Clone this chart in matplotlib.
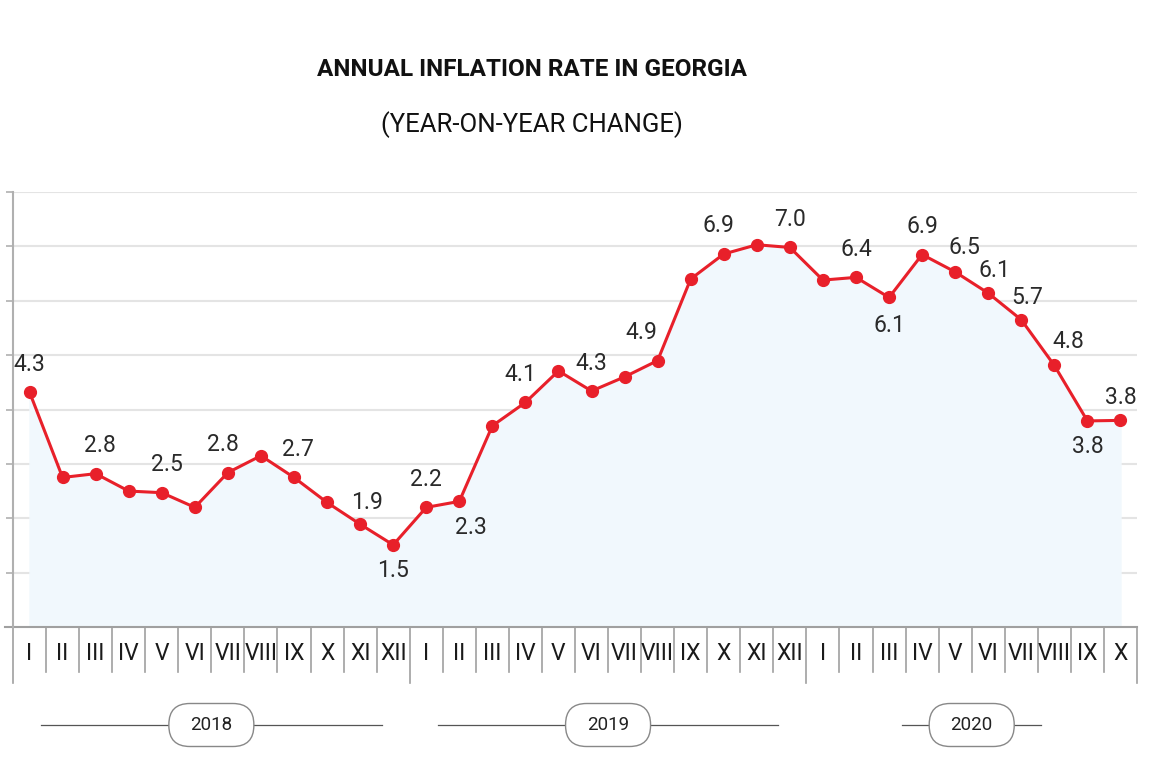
import numpy as np
import matplotlib.pyplot as plt
from matplotlib.patches import FancyBboxPatch

plt.rcParams['font.family'] = ['Roboto', 'DejaVu Sans']

# Datos: inflación anual (%), enero 2018 - octubre 2020
meses = ['I', 'II', 'III', 'IV', 'V', 'VI', 'VII', 'VIII', 'IX', 'X', 'XI', 'XII',
         'I', 'II', 'III', 'IV', 'V', 'VI', 'VII', 'VIII', 'IX', 'X', 'XI', 'XII',
         'I', 'II', 'III', 'IV', 'V', 'VI', 'VII', 'VIII', 'IX', 'X']
inflacion = [4.32, 2.75, 2.82, 2.50, 2.47, 2.20, 2.84, 3.15, 2.75, 2.29, 1.89, 1.51,
             2.20, 2.31, 3.70, 4.13, 4.71, 4.34, 4.60, 4.90, 6.40, 6.86, 7.03, 6.98,
             6.38, 6.43, 6.06, 6.85, 6.53, 6.14, 5.65, 4.81, 3.79, 3.80]
# etiquetas mostradas: indice -> (texto, arriba/abajo)
etiquetas = {0: ('4.3', 1), 2: ('2.8', 1), 4: ('2.5', 1), 6: ('2.8', 1), 8: ('2.7', 1),
             10: ('1.9', 1), 11: ('1.5', -1), 12: ('2.2', 1), 13: ('2.3', -1),
             15: ('4.1', 1), 17: ('4.3', 1), 19: ('4.9', 1), 21: ('6.9', 1),
             23: ('7.0', 1), 25: ('6.4', 1), 26: ('6.1', -1), 27: ('6.9', 1),
             28: ('6.5', 1), 29: ('6.1', 1), 30: ('5.7', 1), 31: ('4.8', 1),
             32: ('3.8', -1), 33: ('3.8', 1)}
anios = ['2018', '2019', '2020']
centro_anio = [5.5, 17.5, 28.5]
media_linea = [5.15, 5.15, 2.1]

# ajustes finos de posicion de etiquetas (pixeles)
desplaz = {2: (4, 0), 4: (5, 0), 6: (-5, 0), 8: (4, 0), 10: (7, -6), 13: (12, 0),
           15: (-5, 0), 19: (-16, 0), 21: (-5, 0), 26: (0, -2), 28: (9, -4), 29: (6, -5),
           30: (6, -6), 31: (14, -4), 33: (0, -5)}

rojo = '#e8202a'
gris = '#a0a0a0'

fig = plt.figure(figsize=(11.49, 7.66), dpi=100)
ax = fig.add_axes([13 / 1149, 1 - 627 / 766, 1124 / 1149, 435 / 766])

x = np.arange(len(inflacion))
ax.set_xlim(-0.5, len(inflacion) - 0.5)
ax.set_ylim(0, 8)

for v in range(1, 9):
    ax.axhline(v, color='#e4e4e4', lw=1.5, zorder=0)

ax.fill_between(x, inflacion, 0, color='#f1f8fd', zorder=1)
ax.plot(x, inflacion, color=rojo, lw=2.2, marker='o', markersize=8.5, zorder=3)

for i, (txt, lado) in etiquetas.items():
    dx, dy = desplaz.get(i, (0, 0))
    base = 28 if lado > 0 else -26
    ax.annotate(txt, (x[i], inflacion[i]), xytext=(dx * 0.72, (base + dy) * 0.72),
                textcoords='offset points', ha='center', va='center',
                fontsize=16.5, color='#2a2a2a', zorder=4)

# ejes
for s in ['top', 'right', 'bottom']:
    ax.spines[s].set_visible(False)
ax.spines['left'].set_color('#b0b0b0')
ax.spines['left'].set_linewidth(1.5)
ax.set_yticks(range(0, 9))
ax.set_yticklabels([])
ax.tick_params(axis='y', length=5, width=1.2, color='#b0b0b0')
ax.set_xticks([])

tr = ax.get_xaxis_transform()
ax.plot([-0.74, len(inflacion) - 0.5], [0, 0], color=gris, lw=1.5, transform=tr, clip_on=False)
for k in range(len(inflacion) + 1):
    largo = -0.129 if k % 12 == 0 or k == len(inflacion) else -0.103
    ax.plot([k - 0.5, k - 0.5], [0, largo], color=gris, lw=1.2, transform=tr, clip_on=False)
for i, m in enumerate(meses):
    ax.text(i, -0.06, m, transform=tr, ha='center', va='center', fontsize=16.5, color='#1a1a1a')

# años con caja redondeada
fig.canvas.draw()
for anio, c, h in zip(anios, centro_anio, media_linea):
    xc = ax.transData.transform((c, 0))[0] / fig.dpi
    yc = (766 - 725) / 100
    x0 = ax.transData.transform((c - h, 0))[0] / fig.dpi
    x1 = ax.transData.transform((c + h, 0))[0] / fig.dpi
    fig.add_artist(plt.Line2D([x0, x1], [yc, yc], color='#555555', lw=0.9,
                              transform=fig.dpi_scale_trans))
    caja = FancyBboxPatch((xc - 0.425, yc - 0.215), 0.85, 0.43,
                          boxstyle='round,pad=0,rounding_size=0.21',
                          fc='white', ec='#888888', lw=1.0,
                          transform=fig.dpi_scale_trans, zorder=5)
    fig.add_artist(caja)
    fig.text(xc, yc, anio, transform=fig.dpi_scale_trans, ha='center', va='center',
             fontsize=13.5, color='#222222', zorder=6)

fig.text(532 / 1149, 1 - 69 / 766, 'ANNUAL INFLATION RATE IN GEORGIA', ha='center', va='center',
         fontsize=17.5, fontweight='bold', color='#111111')
fig.text(532 / 1149, 1 - 125 / 766, '(YEAR-ON-YEAR CHANGE)', ha='center', va='center',
         fontsize=18.5, color='#111111')

plt.savefig('out.png', dpi=100)
